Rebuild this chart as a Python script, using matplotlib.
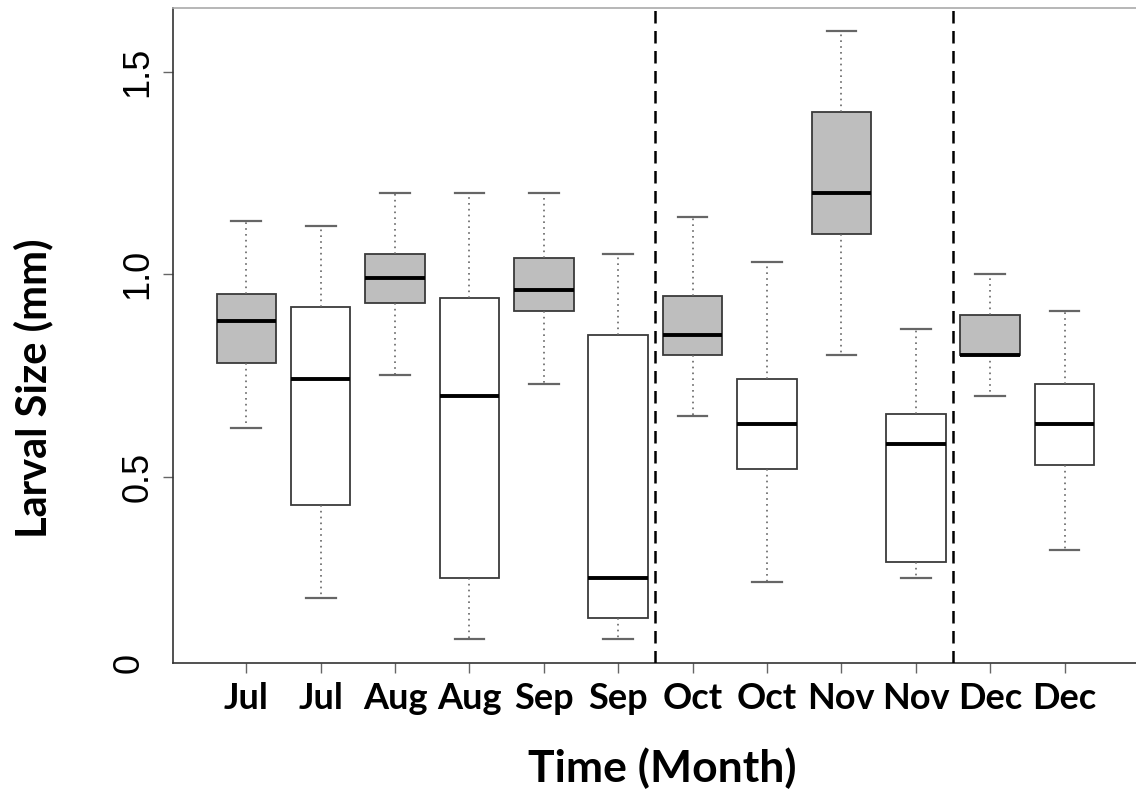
import matplotlib
matplotlib.use("Agg")
from matplotlib import pyplot as plt

# larval size summaries per sample (mm): whisker low, Q1, median, Q3, whisker high
months = ["Jul", "Jul", "Aug", "Aug", "Sep", "Sep", "Oct", "Oct", "Nov", "Nov", "Dec", "Dec"]
whis_lo = [0.62, 0.20, 0.75, 0.10, 0.73, 0.10, 0.65, 0.24, 0.80, 0.25, 0.70, 0.32]
q1 =      [0.78, 0.43, 0.93, 0.25, 0.91, 0.15, 0.80, 0.52, 1.10, 0.29, 0.80, 0.53]
median =  [0.884, 0.74, 0.99, 0.70, 0.96, 0.25, 0.85, 0.63, 1.20, 0.58, 0.80, 0.63]
q3 =      [0.95, 0.92, 1.05, 0.94, 1.04, 0.85, 0.945, 0.74, 1.40, 0.655, 0.90, 0.73]
whis_hi = [1.13, 1.12, 1.20, 1.20, 1.20, 1.05, 1.14, 1.03, 1.60, 0.865, 1.00, 0.91]
filled = [True, False] * 6
breaks = [6.5, 10.5]

stats = []
for i in range(len(months)):
    stats.append({"whislo": whis_lo[i], "q1": q1[i], "med": median[i],
                  "q3": q3[i], "whishi": whis_hi[i], "fliers": []})

fig = plt.figure(figsize=(11.36, 7.93), dpi=100)
ax = fig.add_axes([0.1526, 0.1639, 0.8474, 0.826])

pos = list(range(1, len(months) + 1))
bp = ax.bxp(stats, positions=pos, widths=0.8, patch_artist=True, showfliers=False,
            capwidths=0.4,
            boxprops=dict(edgecolor="#3a3a3a", linewidth=1.3),
            medianprops=dict(color="black", linewidth=2.8, solid_capstyle="butt"),
            whiskerprops=dict(color="#666666", linewidth=1.2, linestyle=(0, (1, 2.5))),
            capprops=dict(color="#666666", linewidth=1.6))
for box, f in zip(bp["boxes"], filled):
    box.set_facecolor("#bebebe" if f else "white")

for b in breaks:
    ax.axvline(b, color="black", linewidth=1.8, linestyle=(0, (5, 3)), zorder=5)

ax.set_xlim(0.02, 12.96)
ax.set_ylim(0.04, 1.657)

ax.spines["right"].set_visible(False)
ax.spines["top"].set_color("#aaaaaa")
ax.spines["left"].set_color("#333333")
ax.spines["bottom"].set_color("#333333")
for s in ["top", "left", "bottom"]:
    ax.spines[s].set_linewidth(1.2)

ax.set_yticks([0.5, 1.0, 1.5])
ax.set_yticklabels(["0.5", "1.0", "1.5"], rotation=90, va="center",
                   family=["Liberation Sans", "DejaVu Sans"], fontsize=26)
ax.text(-0.028, 0.0, "0", transform=ax.transAxes, rotation=90, ha="right", va="center",
        family=["Liberation Sans", "DejaVu Sans"], fontsize=26)
ax.tick_params(axis="y", length=7, width=1, color="#666666", pad=6)

ax.set_xticks(pos)
ax.set_xticklabels(months, family=["Lato", "DejaVu Sans"], fontweight="bold", fontsize=26)
ax.tick_params(axis="x", length=7, width=1, color="#666666", pad=7)

fig.text(662 / 1136, 1 - 768 / 793, "Time (Month)", ha="center", va="center",
         family=["Lato", "DejaVu Sans"], fontweight="bold", fontsize=32)
fig.text(33 / 1136, 1 - 388 / 793, "Larval Size (mm)", ha="center", va="center",
         rotation=90, family=["Lato", "DejaVu Sans"], fontweight="bold", fontsize=30)

fig.savefig("out.png", dpi=100)
